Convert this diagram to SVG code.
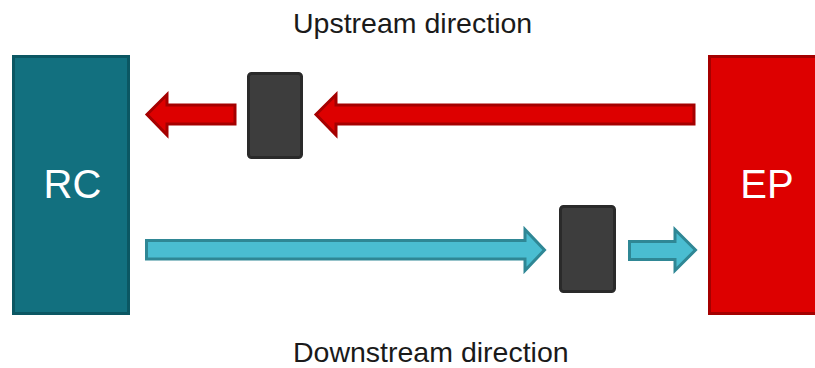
<svg xmlns="http://www.w3.org/2000/svg" width="815" height="368" viewBox="0 0 815 368">
<style>
.lbl{font-family:"Liberation Sans",Arial,sans-serif;font-size:28.5px;fill:#1a1a1a}
.big{font-family:"Liberation Sans",Arial,sans-serif;font-size:40px;fill:#ffffff;text-anchor:middle}
.rc{fill:#12707F;stroke:#0B5763;stroke-width:3}
.ep{fill:#DD0000;stroke:#A50000;stroke-width:3}
.blk{fill:#3D3D3D;stroke:#2A2A2A;stroke-width:3}
.up{fill:#DD0000;stroke:#A50000;stroke-width:3;stroke-linejoin:miter}
.dn{fill:#4ABDD1;stroke:#2F8795;stroke-width:3;stroke-linejoin:miter}
</style>
<rect width="815" height="368" fill="#ffffff"/>
<text class="lbl" x="293" y="33">Upstream direction</text>
<text class="lbl" x="293" y="362">Downstream direction</text>
<g id="rc">
<rect class="rc" x="13.5" y="56.5" width="115" height="257"/>
<text class="big" x="72.5" y="198">RC</text>
</g>
<g id="ep">
<rect class="ep" x="709.5" y="56.5" width="120" height="257"/>
<text class="big" x="767" y="198">EP</text>
</g>
<g id="up-box">
<rect class="blk" x="248.5" y="73.5" width="53" height="84" rx="3"/>
</g>
<g id="down-box">
<rect class="blk" x="560.5" y="206.5" width="54" height="85" rx="3"/>
</g>
<g id="connectors">
<polygon class="up" points="235,105 167,105 167,94.5 147,114.5 167,135 167,124 235,124"/>
<polygon class="up" points="694,105 336,105 336,94.5 316,114.5 336,135 336,124 694,124"/>
<polygon class="dn" points="146.5,240.5 525,240.5 525,229.5 544.5,250 525,270.5 525,259 146.5,259"/>
<polygon class="dn" points="629.5,241.5 675,241.5 675,229.5 695.5,250 675,270.5 675,259.5 629.5,259.5"/>
</g>
</svg>
